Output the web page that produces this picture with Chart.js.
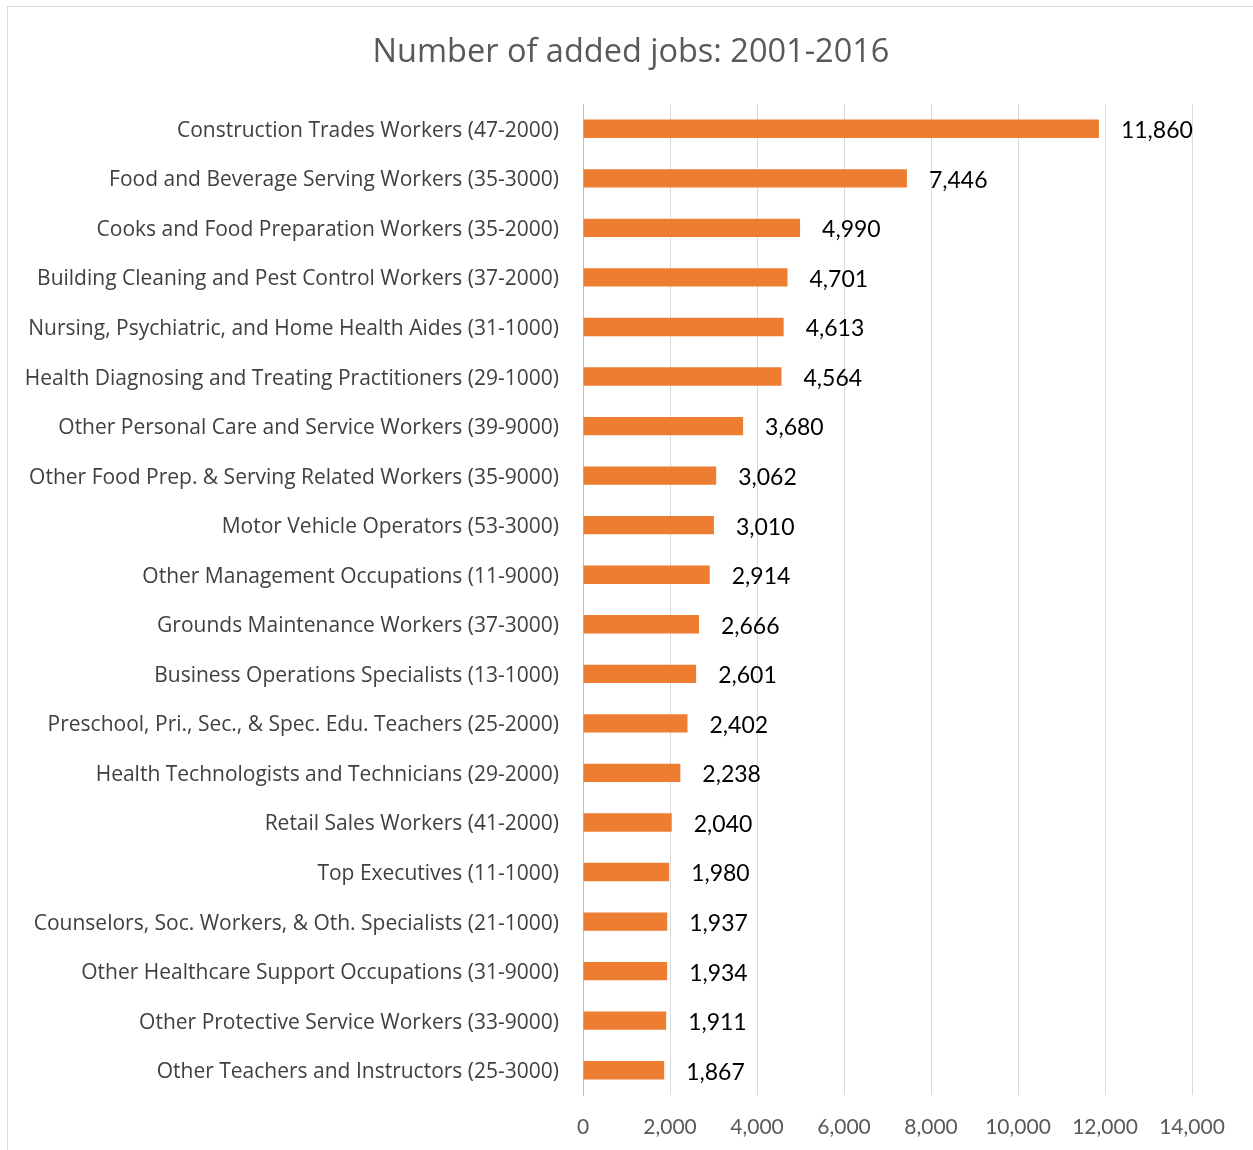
<!DOCTYPE html>
<html>
<head>
<meta charset="utf-8">
<title>Number of added jobs: 2001-2016</title>
<script src="https://cdn.jsdelivr.net/npm/chart.js@4"></script>
<style>
  body { margin: 0; background: #fff; }
  #caja { position: absolute; left: 0; top: 0; width: 1253px; height: 1150px; }
  #borde { position: absolute; left: 7px; top: 6px; width: 1260px; height: 1150px; border: 1px solid #d9d9d9; pointer-events: none; }
</style>
</head>
<body>
<div id="caja"><canvas id="grafico" width="1253" height="1150"></canvas></div>
<div id="borde"></div>
<script>
// datos
const titulo = "Number of added jobs: 2001-2016";
const ocupaciones = [
  "Construction Trades Workers (47-2000)",
  "Food and Beverage Serving Workers (35-3000)",
  "Cooks and Food Preparation Workers (35-2000)",
  "Building Cleaning and Pest Control Workers (37-2000)",
  "Nursing, Psychiatric, and Home Health Aides (31-1000)",
  "Health Diagnosing and Treating Practitioners (29-1000)",
  "Other Personal Care and Service Workers (39-9000)",
  "Other Food Prep. & Serving Related Workers (35-9000)",
  "Motor Vehicle Operators (53-3000)",
  "Other Management Occupations (11-9000)",
  "Grounds Maintenance Workers (37-3000)",
  "Business Operations Specialists (13-1000)",
  "Preschool, Pri., Sec., & Spec. Edu. Teachers (25-2000)",
  "Health Technologists and Technicians (29-2000)",
  "Retail Sales Workers (41-2000)",
  "Top Executives (11-1000)",
  "Counselors, Soc. Workers, & Oth. Specialists (21-1000)",
  "Other Healthcare Support Occupations (31-9000)",
  "Other Protective Service Workers (33-9000)",
  "Other Teachers and Instructors (25-3000)"
];
const empleosAgregados = [11860, 7446, 4990, 4701, 4613, 4564, 3680, 3062, 3010, 2914,
  2666, 2601, 2402, 2238, 2040, 1980, 1937, 1934, 1911, 1867];
const ejeMax = 14000;
const ejePaso = 2000;

const fuenteTexto = "'Open Sans', sans-serif";
const fuenteNum = "Lato, sans-serif";

// titulo centrado sobre todo el cuadro (no solo sobre el area del grafico)
const tituloCentrado = {
  id: "tituloCentrado",
  afterDraw(chart) {
    const ctx = chart.ctx;
    ctx.save();
    ctx.font = "32.5px " + fuenteTexto;
    ctx.fillStyle = "#595959";
    ctx.textAlign = "center";
    ctx.textBaseline = "middle";
    ctx.fillText(titulo, 631, 53);
    ctx.restore();
  }
};

// etiquetas de valor al final de cada barra
const etiquetasValor = {
  id: "etiquetasValor",
  afterDatasetsDraw(chart) {
    const ctx = chart.ctx;
    const meta = chart.getDatasetMeta(0);
    ctx.save();
    ctx.font = "23px " + fuenteNum;
    ctx.fillStyle = "#000000";
    ctx.textAlign = "left";
    ctx.textBaseline = "middle";
    meta.data.forEach((barra, i) => {
      const texto = chart.data.datasets[0].data[i].toLocaleString("en-US");
      ctx.fillText(texto, barra.x + 22, barra.y + 2);
    });
    ctx.restore();
  }
};

new Chart(document.getElementById("grafico"), {
  type: "bar",
  data: {
    labels: ocupaciones,
    datasets: [{
      data: empleosAgregados,
      backgroundColor: "#ED7D31",
      categoryPercentage: 1,
      barPercentage: 0.37
    }]
  },
  options: {
    indexAxis: "y",
    responsive: false,
    animation: false,
    layout: { padding: { left: 0, right: 61, top: 104, bottom: 0 } },
    plugins: {
      legend: { display: false },
      tooltip: { enabled: false },
      title: { display: false }
    },
    scales: {
      x: {
        min: 0,
        max: ejeMax,
        afterFit: (scale) => { scale.height = 55; },
        ticks: {
          stepSize: ejePaso,
          color: "#595959",
          font: { family: fuenteNum, size: 21 },
          padding: 20,
          callback: (v) => v.toLocaleString("en-US")
        },
        grid: { color: "#d9d9d9", lineWidth: 1, drawTicks: false },
        border: { display: false }
      },
      y: {
        afterFit: (scale) => { scale.width = 583; },
        ticks: {
          color: "#404040",
          font: { family: fuenteTexto, size: 21 },
          padding: 24,
          labelOffset: 2
        },
        grid: { display: false, drawTicks: false },
        border: { display: true, color: "#bfbfbf", width: 1 }
      }
    }
  },
  plugins: [etiquetasValor, tituloCentrado]
});
</script>
</body>
</html>
